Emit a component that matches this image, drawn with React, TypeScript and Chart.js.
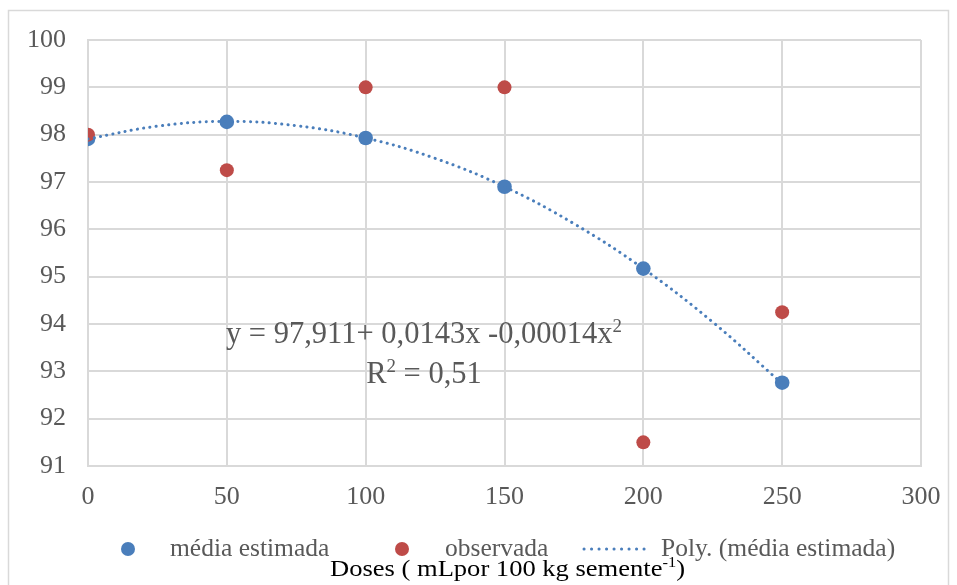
import React, { useEffect, useRef } from "react";
import { Chart, registerables } from "chart.js";

Chart.register(...registerables);

// ---- data ----
const doses = [0, 50, 100, 150, 200, 250];
const mediaEstimada = [97.91, 98.27, 97.93, 96.9, 95.17, 92.76];
const observada = [98.0, 97.25, 99.0, 99.0, 91.5, 94.25];
// trend curve
const trendX = [0, 25, 50, 75, 100, 125, 150, 175, 200, 225, 250];
const trendY = [97.91, 98.18, 98.28, 98.19, 97.93, 97.5, 96.9, 96.12, 95.17, 94.04, 92.74];
const xMin = 0;
const xMax = 300;
const xStep = 50;
const yMin = 91;
const yMax = 100;
const yStep = 1;
const seriesLabels = ["média estimada", "observada", "Poly. (média estimada)"];
const equationLine1 = [
  { t: "y = 97,911+ 0,0143x -0,00014x" },
  { t: "2", sup: true },
];
const equationLine2 = [{ t: "R" }, { t: "2", sup: true }, { t: " = 0,51" }];
const axisTitle = [{ t: "Doses ( mLpor 100 kg semente" }, { t: "-1", sup: true }, { t: ")" }];

const FONT = "'Liberation Serif', 'Times New Roman', serif";
const BLUE = "#4a7ebb";
const RED = "#be4b48";
const GRID = "#d9d9d9";
const TXT = "#595959";

type Seg = { t: string; sup?: boolean };

function segWidth(ctx: CanvasRenderingContext2D, segs: Seg[], size: number) {
  let w = 0;
  for (const s of segs) {
    ctx.font = `${s.sup ? size * 0.62 : size}px ${FONT}`;
    w += ctx.measureText(s.t).width;
  }
  return w;
}

function drawSegs(
  ctx: CanvasRenderingContext2D,
  segs: Seg[],
  size: number,
  x: number,
  baseline: number,
  supRaise: number
) {
  let cx = x;
  for (const s of segs) {
    ctx.font = `${s.sup ? size * 0.62 : size}px ${FONT}`;
    ctx.fillText(s.t, cx, s.sup ? baseline - supRaise : baseline);
    cx += ctx.measureText(s.t).width;
  }
}

export default function App() {
  const ref = useRef<HTMLCanvasElement>(null);

  useEffect(() => {
    const overlay = {
      id: "overlay",
      afterDraw(chart: any) {
        const ctx: CanvasRenderingContext2D = chart.ctx;
        ctx.save();
        // outer border
        ctx.strokeStyle = GRID;
        ctx.lineWidth = 1.5;
        ctx.strokeRect(8.5, 10.5, 940, 600);

        // equation
        ctx.fillStyle = TXT;
        ctx.textBaseline = "alphabetic";
        ctx.textAlign = "left";
        const eqSize = 30.5;
        const w1 = segWidth(ctx, equationLine1, eqSize);
        drawSegs(ctx, equationLine1, eqSize, 424 - w1 / 2, 343, 11);
        const w2 = segWidth(ctx, equationLine2, eqSize);
        drawSegs(ctx, equationLine2, eqSize, 424 - w2 / 2, 383, 11);

        // legend
        const ly = 549;
        const lSize = 25.5;
        ctx.fillStyle = BLUE;
        ctx.beginPath();
        ctx.arc(128, ly, 7, 0, Math.PI * 2);
        ctx.fill();
        ctx.fillStyle = RED;
        ctx.beginPath();
        ctx.arc(402, ly, 7, 0, Math.PI * 2);
        ctx.fill();
        ctx.strokeStyle = BLUE;
        ctx.lineWidth = 3;
        ctx.lineCap = "round";
        ctx.setLineDash([0.1, 7.4]);
        ctx.beginPath();
        ctx.moveTo(584, ly);
        ctx.lineTo(651, ly);
        ctx.stroke();
        ctx.setLineDash([]);
        ctx.fillStyle = TXT;
        ctx.font = `${lSize}px ${FONT}`;
        ctx.fillText(seriesLabels[0], 170, 556);
        ctx.fillText(seriesLabels[1], 445, 556);
        ctx.fillText(seriesLabels[2], 661, 556);

        // axis title (stretched horizontally to the reference width)
        const tSize = 23.5;
        const tw = segWidth(ctx, axisTitle, tSize);
        const target = 355;
        ctx.fillStyle = "#000000";
        ctx.translate(330, 0);
        ctx.scale(target / tw, 1);
        drawSegs(ctx, axisTitle, tSize, 0, 576, 9.5);
        ctx.restore();
      },
    };

    const chart = new Chart(ref.current as HTMLCanvasElement, {
      type: "scatter",
      data: {
        datasets: [
          {
            label: seriesLabels[0],
            data: doses.map((x, i) => ({ x, y: mediaEstimada[i] })),
            backgroundColor: BLUE,
            borderColor: BLUE,
            pointRadius: 7.3,
            pointBorderWidth: 0,
            showLine: false,
            order: 2,
          },
          {
            label: seriesLabels[1],
            data: doses.map((x, i) => ({ x, y: observada[i] })),
            backgroundColor: RED,
            borderColor: RED,
            pointRadius: 7,
            pointBorderWidth: 0,
            showLine: false,
            order: 1,
          },
          {
            label: seriesLabels[2],
            data: trendX.map((x, i) => ({ x, y: trendY[i] })),
            showLine: true,
            pointRadius: 0,
            borderColor: BLUE,
            borderWidth: 3,
            borderDash: [0.1, 6.2],
            borderCapStyle: "round",
            tension: 0.4,
            fill: false,
            order: 0,
          } as any,
        ],
      },
      options: {
        responsive: false,
        animation: false,
        layout: { padding: { left: 0, top: 40, right: 957 - 921, bottom: 0 } },
        plugins: { legend: { display: false }, tooltip: { enabled: false } },
        scales: {
          x: {
            type: "linear",
            min: xMin,
            max: xMax,
            ticks: {
              stepSize: xStep,
              color: TXT,
              font: { family: FONT, size: 26 },
              padding: 16,
            },
            grid: { color: GRID, lineWidth: 2, drawTicks: false },
            border: { color: GRID, width: 2 },
            afterFit(s: any) {
              s.height = 585 - 466;
            },
          },
          y: {
            type: "linear",
            min: yMin,
            max: yMax,
            ticks: {
              stepSize: yStep,
              color: TXT,
              font: { family: FONT, size: 26 },
              padding: 22,
            },
            grid: { color: GRID, lineWidth: 2, drawTicks: false },
            border: { color: GRID, width: 2 },
            afterFit(s: any) {
              s.width = 88;
            },
          },
        },
      },
      plugins: [overlay],
    });
    return () => chart.destroy();
  }, []);

  return (
    <div style={{ position: "absolute", left: 0, top: 0, width: 957, height: 585, background: "#ffffff" }}>
      <canvas ref={ref} width={957} height={585} style={{ display: "block" }} />
    </div>
  );
}
